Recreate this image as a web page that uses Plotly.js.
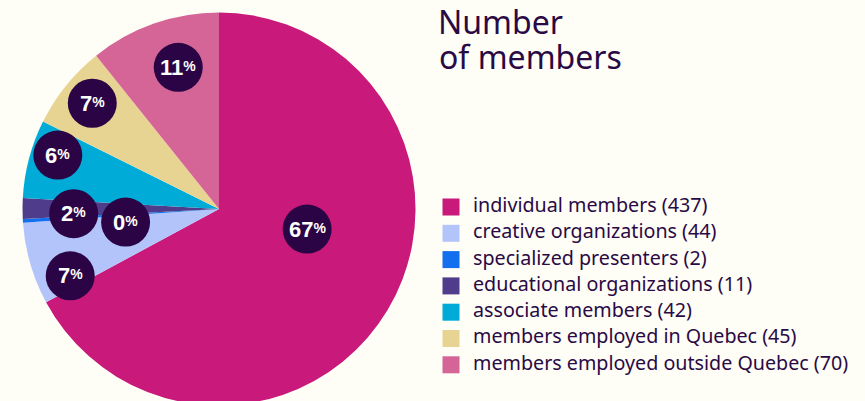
<!DOCTYPE html>
<html>
<head>
<meta charset="utf-8">
<script src="https://cdn.plot.ly/plotly-3.0.1.min.js"></script>
<style>
html,body{margin:0;padding:0;background:#fefdf6;overflow:hidden;}
#chart{width:865px;height:420px;}
</style>
</head>
<body>
<div id="chart"></div>
<script>
// ---- data ----
const categories = ["individual members","creative organizations","specialized presenters","educational organizations","associate members","members employed in Quebec","members employed outside Quebec"];
const memberCounts = [437, 44, 2, 11, 42, 45, 70];
const sliceColors = ["#c9197a","#b3c4fb","#146fee","#4f3c8b","#00acd7","#e8d492","#d46596"];
const titleLines = ["Number", "of members"];

// ---- label placement tweaks (relative to slice mid-angle) ----
const labelAngleShift = [-18, -8, -4.5, -2, 3.7, 1, 3.3];
const labelRadiusFrac = [0.46, 0.83, 0.48, 0.74, 0.865, 0.84, 0.75];

const W = 865, H = 420;
const cx = 219, cy = 209, R = 196.5;
const ink = "#2a0a45";
const bubble = "#2a0444";

const total = memberCounts.reduce((a,b)=>a+b,0);

const pie = {
  type: 'pie',
  labels: categories,
  values: memberCounts,
  sort: false,
  direction: 'clockwise',
  rotation: 0,
  marker: {colors: sliceColors, line: {width: 0}},
  textinfo: 'none',
  hoverinfo: 'skip',
  showlegend: false,
  domain: {x: [(cx-R)/W, (cx+R)/W], y: [(H-(cy+R))/H, (H-(cy-R))/H]}
};

const shapes = [], annotations = [];
let cum = 0;
memberCounts.forEach((v,i)=>{
  const a = ((cum + v/2)/total*360 + labelAngleShift[i]) * Math.PI/180;
  cum += v;
  const px = cx + labelRadiusFrac[i]*R*Math.sin(a);
  const py = cy - labelRadiusFrac[i]*R*Math.cos(a);
  const rr = 24.5;
  shapes.push({type:'circle', xref:'x', yref:'y', x0:px-rr, x1:px+rr, y0:py-rr, y1:py+rr,
    fillcolor: bubble, line:{width:0}, layer:'above'});
  const pct = Math.round(v/total*100);
  annotations.push({xref:'x', yref:'y', x:px, y:py, showarrow:false,
    text: pct + "<span style='font-size:14px;baseline-shift:4px'>%</span>",
    font:{family:"'Liberation Sans',Arial,sans-serif", size:22, color:'#ffffff', weight:700},
    xanchor:'center', yanchor:'middle'});
});

// second title line
annotations.push({xref:'x', yref:'y', x:438, y:79, xanchor:'left', yanchor:'bottom', showarrow:false,
  text: titleLines[1], font:{family:"'Noto Sans',sans-serif", size:32, color: ink}, borderpad:0});

const legendY = categories.map((c,i)=> 207 + i*26.3);
const legendSquares = {
  type:'scatter', mode:'markers', x: categories.map(()=>451), y: legendY,
  marker:{symbol:'square', size:17, color: sliceColors}, hoverinfo:'skip', showlegend:false
};
const legendText = {
  type:'scatter', mode:'text', x: categories.map(()=>473), y: legendY,
  text: categories.map((c,i)=> c + " (" + memberCounts[i] + ")"),
  textposition:'middle right',
  textfont:{family:"'Noto Sans',sans-serif", size:19.7, color: ink},
  hoverinfo:'skip', showlegend:false
};

const layout = {
  width: W, height: H,
  margin:{l:0,r:0,t:0,b:0},
  paper_bgcolor:'#fefdf6', plot_bgcolor:'rgba(0,0,0,0)',
  showlegend:false,
  title:{text: titleLines[0], x: 438/W, xanchor:'left', xref:'paper', y: 1-12/H, yanchor:'top', yref:'container',
    font:{family:"'Noto Sans',sans-serif", size:32, color: ink}},
  xaxis:{range:[0,W], visible:false, fixedrange:true, domain:[0,1]},
  yaxis:{range:[H,0], visible:false, fixedrange:true, domain:[0,1]},
  shapes: shapes,
  annotations: annotations
};

Plotly.newPlot('chart', [pie, legendSquares, legendText], layout, {displayModeBar:false, staticPlot:true});
</script>
</body>
</html>
